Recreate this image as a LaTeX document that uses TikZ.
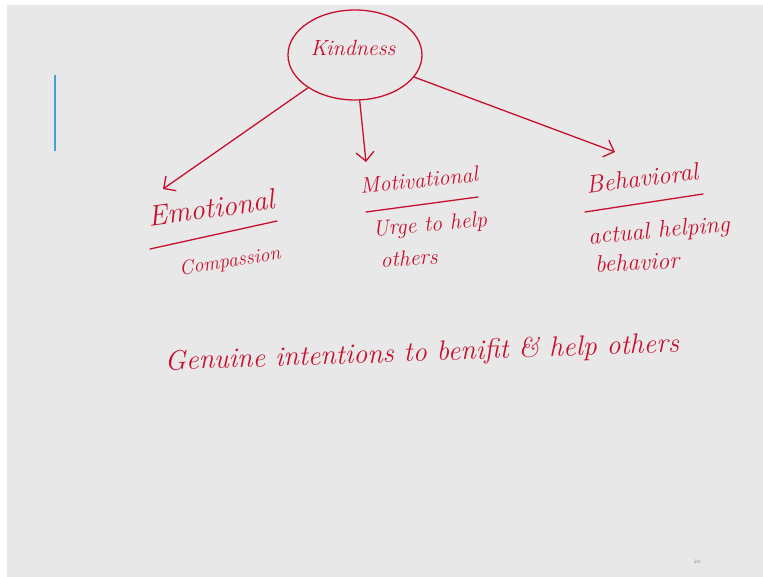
\documentclass[tikz,border=0pt]{standalone}
\usetikzlibrary{shapes.geometric,arrows.meta}
\definecolor{ink}{RGB}{200,16,46}
\definecolor{slidegray}{RGB}{232,232,232}
\definecolor{pen}{RGB}{70,160,210}
\begin{document}
\begin{tikzpicture}[x=1pt,y=-1pt,
  hand/.style={text=ink, inner sep=0pt},
  link/.style={draw=ink, line width=1.3pt, -{Straight Barb[length=9pt,width=18pt]}},
  underline/.style={draw=ink, line width=1.3pt, line cap=round}]
\useasboundingbox (0,0) rectangle (763,577);
\fill[white] (0,0) rectangle (763,577);
\fill[slidegray] (7,5) rectangle (763,577);
\draw[pen, line width=1.5pt] (55,75) -- (55,151);
% root
\node[ellipse, draw=ink, line width=1.3pt, minimum width=134pt, minimum height=90pt, inner sep=0pt] (kind) at (355,55) {};
\node[hand, font=\fontsize{22}{26}\selectfont\itshape] (kindtxt) at (353,48) {Kindness};
% arrow tips
\coordinate (tipE) at (163,189);
\coordinate (tipM) at (366,162);
\coordinate (tipB) at (615,152);
\draw[link] (kind) -- (tipE);
\draw[link] (kind) -- (tipM);
\draw[link] (kind) -- (tipB);
% Emotional
\node[hand, rotate=8, font=\fontsize{29}{32}\selectfont\itshape] (emo) at (211,208) {Emotional};
\draw[underline] (150,249) -- (277,221);
\node[hand, rotate=9, font=\fontsize{20}{22}\selectfont\itshape] (comp) at (230,262) {Compassion};
% Motivational
\node[hand, rotate=6, font=\fontsize{22}{26}\selectfont\itshape] (moti) at (419,180) {Motivational};
\draw[underline] (366,212) -- (478,197);
\node[hand, rotate=5, font=\fontsize{22}{24}\selectfont\itshape] (urge) at (430,226) {Urge to help};
\node[hand, rotate=3, font=\fontsize{22}{24}\selectfont\itshape] (oth) at (409,258) {others};
% Behavioral
\node[hand, rotate=7, font=\fontsize{25}{28}\selectfont\itshape] (beh) at (642,178) {Behavioral};
\draw[underline] (585,212) -- (703,194);
\node[hand, rotate=5, font=\fontsize{24}{26}\selectfont\itshape] (act) at (659,232) {actual helping};
\node[hand, rotate=3, font=\fontsize{24}{26}\selectfont\itshape] (behv) at (637,262) {behavior};
% bottom line
\node[hand, rotate=2, font=\fontsize{28}{30}\selectfont\itshape] (gen) at (422,354) {Genuine intentions to benifit \& help others};
% page number
\node[text=gray, font=\fontsize{5}{6}\selectfont, inner sep=0pt] (pg) at (697,562) {28};
\end{tikzpicture}
\end{document}
